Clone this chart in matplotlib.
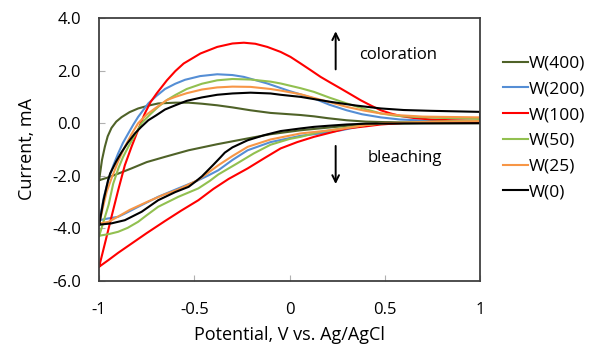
import matplotlib
matplotlib.use("Agg")
import matplotlib.pyplot as plt

plt.rcParams['font.family'] = ['Open Sans', 'DejaVu Sans']

labels = ["W(400)", "W(200)", "W(100)", "W(50)", "W(25)", "W(0)"]
colors = ["#4f6228", "#558ed5", "#ff0000", "#92c050", "#f79646", "#000000"]

# W(400): forward (anodic) branch then return branch
v400 = [-1.0, -0.985, -0.97, -0.955, -0.935, -0.91, -0.882, -0.84, -0.795, -0.74, -0.69, -0.6, -0.53, -0.46, -0.38, -0.3,
        -0.205, -0.1, 0.058, 0.128, 0.2, 0.3, 0.4, 0.5, 0.7, 1.0,
        1.0, 0.7, 0.5, 0.4, 0.3, 0.2, 0.058, -0.1, -0.22, -0.38, -0.53, -0.654, -0.75, -0.83, -0.9, -0.96, -1.0]
i400 = [-2.17, -1.4, -0.9, -0.5, -0.18, 0.06, 0.23, 0.42, 0.56, 0.67, 0.75, 0.78, 0.78, 0.74, 0.68, 0.6,
        0.49, 0.39, 0.31, 0.26, 0.19, 0.11, 0.06, 0.04, 0.03, 0.02,
        0.0, 0.0, -0.02, -0.05, -0.1, -0.17, -0.27, -0.42, -0.58, -0.8, -1.03, -1.28, -1.48, -1.72, -1.92, -2.08, -2.17]
# W(200)
v200 = [-1.0, -0.985, -0.975, -0.949, -0.925, -0.9, -0.875, -0.847, -0.82, -0.795, -0.742, -0.7, -0.654, -0.6, -0.549, -0.47,
        -0.38, -0.3, -0.24, -0.117, 0.0, 0.128, 0.21, 0.3, 0.38, 0.479, 0.58, 0.7, 1.0,
        1.0, 0.7, 0.5, 0.4, 0.27, 0.15, 0.058, -0.1, -0.22, -0.3, -0.374, -0.43, -0.479, -0.584, -0.69, -0.795, -0.86,
        -0.9, -0.95, -1.0]
i200 = [-3.69, -3.2, -2.8, -2.1, -1.6, -1.15, -0.75, -0.39, -0.05, 0.24, 0.75, 1.03, 1.3, 1.5, 1.65, 1.79,
        1.86, 1.83, 1.76, 1.51, 1.22, 0.94, 0.7, 0.49, 0.34, 0.22, 0.14, 0.1, 0.08,
        0.05, 0.03, 0.0, -0.08, -0.27, -0.4, -0.48, -0.72, -1.03, -1.4, -1.79, -2.0, -2.17, -2.48, -2.8, -3.18, -3.42,
        -3.56, -3.62, -3.69]
# W(100)
v100 = [-1.0, -0.967, -0.933, -0.9, -0.865, -0.83, -0.795, -0.76, -0.73, -0.698, -0.644, -0.6, -0.556, -0.468, -0.38,
        -0.3, -0.24, -0.18, -0.117, -0.047, 0.005, 0.058, 0.11, 0.163, 0.215, 0.268, 0.32, 0.374, 0.43, 0.479, 0.53,
        0.584, 0.65, 0.742, 0.85, 1.0,
        1.0, 0.8, 0.6, 0.479, 0.4, 0.3, 0.22, 0.128, 0.04, -0.047, -0.13, -0.22, -0.32, -0.4, -0.479, -0.57, -0.654,
        -0.75, -0.83, -0.9, -0.95, -1.0]
i100 = [-5.46, -4.5, -3.5, -2.55, -1.6, -0.9, -0.25, 0.37, 0.8, 1.13, 1.63, 1.98, 2.27, 2.65, 2.9,
        3.03, 3.06, 3.02, 2.9, 2.71, 2.52, 2.27, 2.02, 1.76, 1.54, 1.32, 1.1, 0.87, 0.66, 0.49, 0.37,
        0.27, 0.2, 0.14, 0.11, 0.09,
        0.05, 0.03, 0.01, -0.05, -0.12, -0.2, -0.35, -0.52, -0.72, -0.96, -1.32, -1.72, -2.12, -2.5, -2.93, -3.33, -3.72,
        -4.18, -4.58, -4.93, -5.2, -5.46]
# W(50)
v50 = [-1.0, -0.975, -0.95, -0.926, -0.898, -0.875, -0.847, -0.81, -0.777, -0.73, -0.69, -0.644, -0.6, -0.54, -0.46,
       -0.38, -0.3, -0.205, -0.1, -0.047, 0.058, 0.128, 0.21, 0.3, 0.39, 0.479, 0.56, 0.654, 0.8, 1.0,
       1.0, 0.7, 0.5, 0.4, 0.27, 0.15, 0.058, 0.0, -0.1, -0.188, -0.28, -0.374, -0.42, -0.479, -0.584, -0.69, -0.75,
       -0.795, -0.85, -0.9, -0.95, -1.0]
i50 = [-4.3, -3.7, -3.1, -2.3, -1.7, -1.3, -0.9, -0.42, 0.0, 0.35, 0.62, 0.88, 1.07, 1.3, 1.5,
       1.63, 1.68, 1.66, 1.58, 1.51, 1.33, 1.19, 0.97, 0.75, 0.55, 0.37, 0.28, 0.24, 0.2, 0.18,
       0.1, 0.05, 0.0, -0.07, -0.2, -0.35, -0.52, -0.6, -0.82, -1.15, -1.55, -1.95, -2.2, -2.48, -2.8, -3.18, -3.5,
       -3.75, -3.98, -4.13, -4.22, -4.28]
# W(25)
v25 = [-1.0, -0.98, -0.96, -0.935, -0.9, -0.865, -0.83, -0.795, -0.75, -0.707, -0.644, -0.6, -0.54, -0.46, -0.38,
       -0.3, -0.205, -0.1, -0.047, 0.058, 0.128, 0.21, 0.3, 0.39, 0.479, 0.58, 0.7, 1.0,
       1.0, 0.7, 0.5, 0.4, 0.27, 0.15, 0.058, -0.1, -0.22, -0.3, -0.374, -0.43, -0.479, -0.52, -0.584, -0.66, -0.75,
       -0.84, -0.9, -0.95, -1.0]
i25 = [-3.85, -3.2, -2.6, -2.1, -1.45, -0.9, -0.42, 0.0, 0.33, 0.56, 0.88, 1.0, 1.14, 1.28, 1.36,
       1.39, 1.38, 1.3, 1.24, 1.1, 0.96, 0.8, 0.62, 0.48, 0.37, 0.3, 0.25, 0.22,
       0.08, 0.04, 0.0, -0.07, -0.22, -0.32, -0.39, -0.62, -0.9, -1.25, -1.6, -1.9, -2.15, -2.3, -2.52, -2.72, -3.0,
       -3.3, -3.55, -3.75, -3.82]
# W(0)
v0 = [-1.0, -0.977, -0.953, -0.942, -0.91, -0.882, -0.85, -0.812, -0.78, -0.742, -0.7, -0.654, -0.6, -0.54, -0.46,
      -0.38, -0.3, -0.205, -0.1, -0.047, 0.058, 0.216, 0.35, 0.479, 0.6, 0.742, 1.0,
      1.0, 0.6, 0.4, 0.3, 0.2, 0.128, 0.058, -0.047, -0.13, -0.22, -0.3, -0.34, -0.363, -0.40, -0.43, -0.46, -0.49,
      -0.53, -0.6, -0.69, -0.777, -0.865, -0.935, -1.0]
i0 = [-3.88, -2.93, -2.17, -1.91, -1.45, -1.1, -0.75, -0.39, -0.15, 0.11, 0.3, 0.52, 0.68, 0.85, 0.98,
      1.08, 1.13, 1.16, 1.13, 1.08, 1.0, 0.81, 0.67, 0.56, 0.5, 0.47, 0.43,
      0.0, -0.01, -0.02, -0.05, -0.1, -0.14, -0.2, -0.3, -0.45, -0.65, -0.92, -1.12, -1.3, -1.58, -1.8, -2.02, -2.2,
      -2.42, -2.62, -2.93, -3.37, -3.69, -3.81, -3.86]

series_v = [v400, v200, v100, v50, v25, v0]
series_i = [i400, i200, i100, i50, i25, i0]

fig = plt.figure(figsize=(5.9, 3.46), dpi=100)
ax = fig.add_axes([0.168, 0.188, 0.6456, 0.760])

for v, i, c, lab in zip(series_v, series_i, colors, labels):
    ax.plot(v, i, color=c, lw=1.5, label=lab, solid_joinstyle='round')

ax.set_xlim(-1, 1)
ax.set_ylim(-6, 4)
ax.set_xticks([-1, -0.5, 0, 0.5, 1])
ax.set_xticklabels(["-1", "-0.5", "0", "0.5", "1"])
ax.set_yticks([-6, -4, -2, 0, 2, 4])
ax.set_yticklabels(["-6.0", "-4.0", "-2.0", "0.0", "2.0", "4.0"])
ax.tick_params(direction='in', length=4, color='#b0b0b0', labelsize=12)
ax.tick_params(axis='x', pad=15)
ax.tick_params(axis='y', pad=13)
for s in ax.spines.values():
    s.set_color('#404040')
    s.set_linewidth(1.3)

ax.set_xlabel("Potential, V vs. Ag/AgCl", fontsize=13, labelpad=6)
ax.set_ylabel("Current, mA", fontsize=13, labelpad=12)

ax.annotate("", xy=(0.242, 3.6), xytext=(0.242, 1.94),
            arrowprops=dict(arrowstyle='->', color='black', lw=1.4, mutation_scale=12))
ax.text(0.363, 2.59, "coloration", fontsize=12, va='center', ha='left')
ax.annotate("", xy=(0.242, -2.42), xytext=(0.242, -0.76),
            arrowprops=dict(arrowstyle='->', color='black', lw=1.4, mutation_scale=12))
ax.text(0.41, -1.33, "bleaching", fontsize=12, va='center', ha='left')

leg = fig.legend(loc='center left', bbox_to_anchor=(0.8525, 0.63), frameon=False,
                 fontsize=12.5, handlelength=1.45, handletextpad=0.05, labelspacing=0.55,
                 borderaxespad=0, borderpad=0)

fig.savefig("out.png", dpi=100)
